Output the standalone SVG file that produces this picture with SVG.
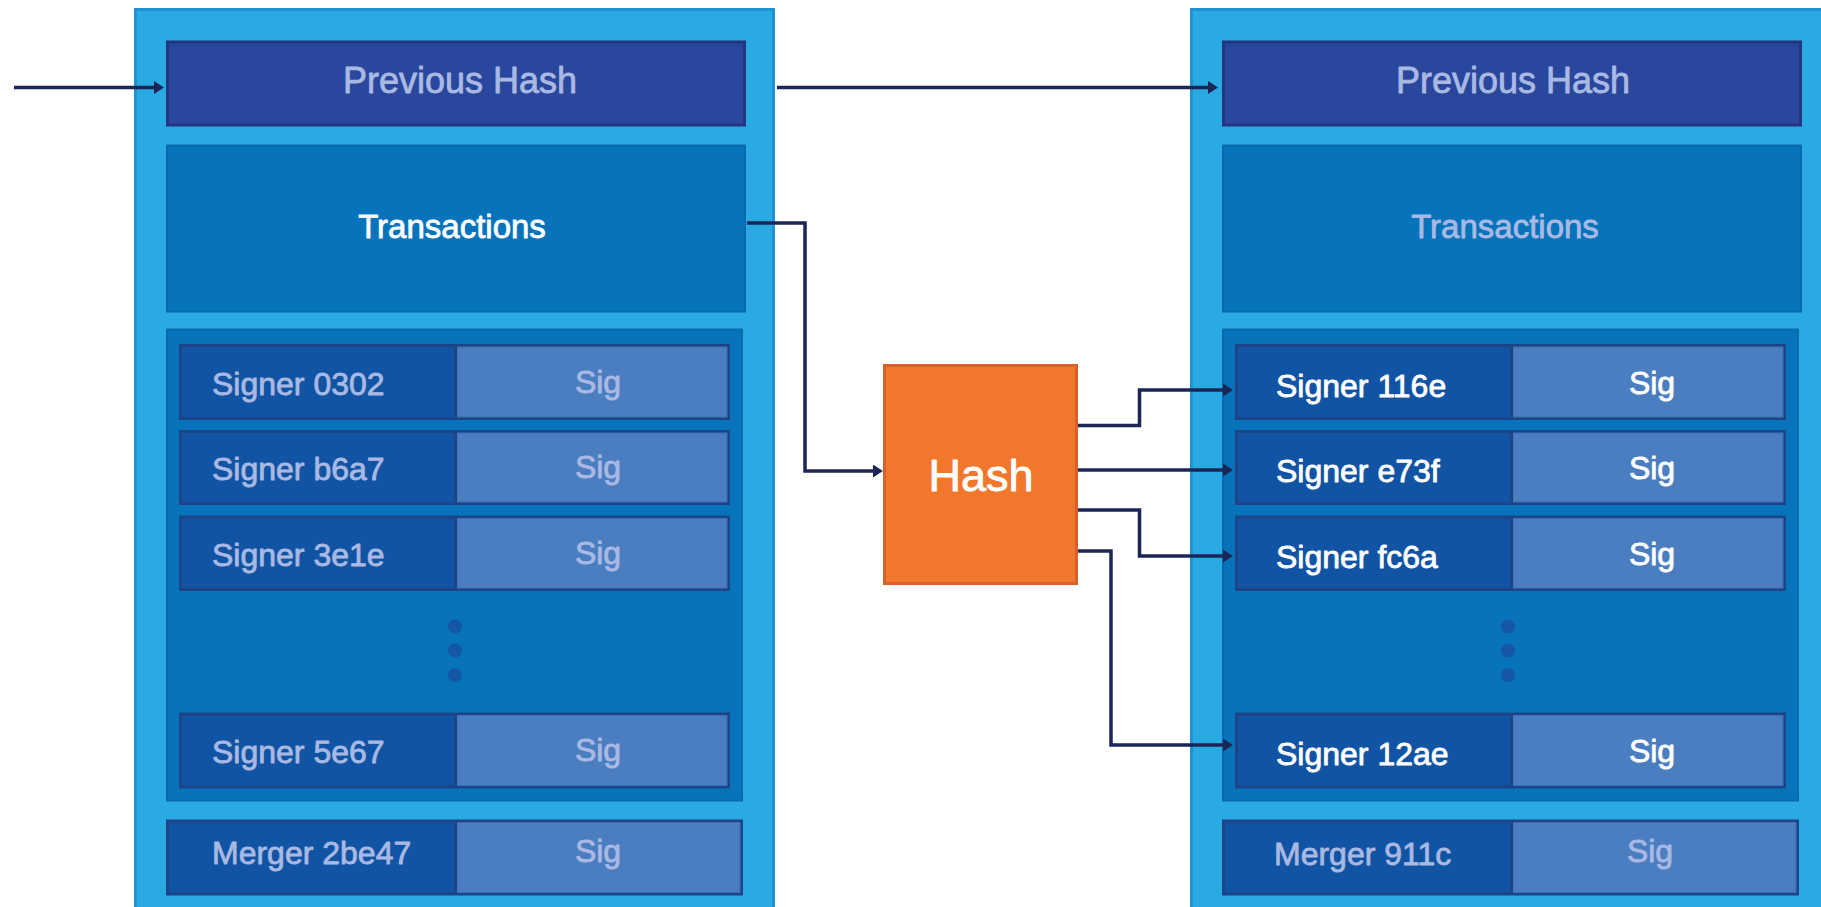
<svg xmlns="http://www.w3.org/2000/svg" width="1821" height="907" viewBox="0 0 1821 907">
  <defs>
    <style>
      .outer { fill: #29aae2; stroke: #1f93d2; stroke-width: 3; }
      .prev { fill: #29479d; stroke: #22357e; stroke-width: 3; }
      .mid { fill: #0673bb; stroke: #0b68ad; stroke-width: 2; }
      .cell { fill: #1254a4; stroke: #1c4486; stroke-width: 3; }
      .sig { fill: #4b7ec1; stroke: #3f70b3; stroke-width: 1; }
      .div { stroke: #1c4486; stroke-width: 3; }
      .dot { fill: #1656a6; }
      .hash { fill: #f1772c; stroke: #d8602a; stroke-width: 3; }
      .t { font-family: "Liberation Sans", Arial, sans-serif; stroke-width: 0.8; stroke-linejoin: round; }
      .faded { fill: #a9b9e3; stroke: #a9b9e3; }
      .white { fill: #ffffff; stroke: #ffffff; }
      .big { font-size: 36px; }
      .tx { font-size: 33px; }
      .row { font-size: 32px; }
      .c { text-anchor: middle; }
      .conn { fill: none; stroke: #1b2656; stroke-width: 3.5; }
    </style>
    <marker id="arrow" viewBox="0 0 10 13" refX="0" refY="6.5" markerWidth="10" markerHeight="13" markerUnits="userSpaceOnUse" orient="auto">
      <path d="M0,0 L10,6.5 L0,13 z" fill="#1b2656"/>
    </marker>
  </defs>

  <rect x="0" y="0" width="1821" height="907" fill="#ffffff"/>

  <!-- Left block -->
  <g id="block-left">
    <rect class="outer" x="135.5" y="9.5" width="638" height="920"/>
    <g id="left-prev-hash">
      <rect class="prev" x="167.5" y="42" width="577" height="83"/>
      <text class="t big faded c" x="460" y="93">Previous Hash</text>
    </g>
    <g id="left-transactions">
      <rect class="mid" x="167" y="145.5" width="578" height="166"/>
      <text class="t tx white c" x="452" y="238">Transactions</text>
    </g>
    <g id="left-signers">
      <rect class="mid" x="167" y="329.5" width="575" height="471"/>
      <g id="left-signer-0302">
        <rect class="cell" x="180.5" y="345.5" width="548" height="73"/>
        <rect class="sig" x="457" y="347" width="270" height="70"/>
        <line class="div" x1="455.5" y1="345.5" x2="455.5" y2="418.5"/>
        <text class="t row faded" x="212" y="395">Signer 0302</text>
        <text class="t row faded c" x="598" y="393">Sig</text>
      </g>
      <g id="left-signer-b6a7">
        <rect class="cell" x="180.5" y="431.5" width="548" height="72"/>
        <rect class="sig" x="457" y="433" width="270" height="69"/>
        <line class="div" x1="455.5" y1="431.5" x2="455.5" y2="503.5"/>
        <text class="t row faded" x="212" y="480">Signer b6a7</text>
        <text class="t row faded c" x="598" y="478">Sig</text>
      </g>
      <g id="left-signer-3e1e">
        <rect class="cell" x="180.5" y="517" width="548" height="72.5"/>
        <rect class="sig" x="457" y="518.5" width="270" height="69.5"/>
        <line class="div" x1="455.5" y1="517" x2="455.5" y2="589.5"/>
        <text class="t row faded" x="212" y="566">Signer 3e1e</text>
        <text class="t row faded c" x="598" y="564">Sig</text>
      </g>
      <g id="left-ellipsis">
        <circle class="dot" cx="455" cy="626.5" r="7"/>
        <circle class="dot" cx="455" cy="650.5" r="7"/>
        <circle class="dot" cx="455" cy="675" r="7"/>
      </g>
      <g id="left-signer-5e67">
        <rect class="cell" x="180.5" y="714" width="548" height="73"/>
        <rect class="sig" x="457" y="715.5" width="270" height="70"/>
        <line class="div" x1="455.5" y1="714" x2="455.5" y2="787"/>
        <text class="t row faded" x="212" y="763">Signer 5e67</text>
        <text class="t row faded c" x="598" y="761">Sig</text>
      </g>
    </g>
    <g id="left-merger">
      <rect class="cell" x="167.5" y="821" width="574" height="73"/>
      <rect class="sig" x="457" y="822.5" width="283" height="70"/>
      <line class="div" x1="455.5" y1="821" x2="455.5" y2="894"/>
      <text class="t row faded" x="212" y="864">Merger 2be47</text>
      <text class="t row faded c" x="598" y="862">Sig</text>
    </g>
  </g>

  <!-- Hash node -->
  <g id="hash">
    <rect class="hash" x="884.5" y="365.5" width="192" height="218"/>
    <text class="t white c" x="981" y="491" font-size="45">Hash</text>
  </g>

  <!-- Right block -->
  <g id="block-right" transform="translate(1056 0)">
    <rect class="outer" x="135.5" y="9.5" width="700" height="920"/>
    <g id="right-prev-hash">
      <rect class="prev" x="167.5" y="42" width="577" height="83"/>
      <text class="t big faded c" x="457" y="93">Previous Hash</text>
    </g>
    <g id="right-transactions">
      <rect class="mid" x="167" y="145.5" width="578" height="166"/>
      <text class="t tx faded c" x="449" y="238">Transactions</text>
    </g>
    <g id="right-signers">
      <rect class="mid" x="167" y="329.5" width="575" height="471"/>
      <g id="right-signer-116e">
        <rect class="cell" x="180.5" y="345.5" width="548" height="73"/>
        <rect class="sig" x="457" y="347" width="270" height="70"/>
        <line class="div" x1="455.5" y1="345.5" x2="455.5" y2="418.5"/>
        <text class="t row white" x="220" y="397">Signer 116e</text>
        <text class="t row white c" x="596" y="394">Sig</text>
      </g>
      <g id="right-signer-e73f">
        <rect class="cell" x="180.5" y="431.5" width="548" height="72"/>
        <rect class="sig" x="457" y="433" width="270" height="69"/>
        <line class="div" x1="455.5" y1="431.5" x2="455.5" y2="503.5"/>
        <text class="t row white" x="220" y="482">Signer e73f</text>
        <text class="t row white c" x="596" y="479">Sig</text>
      </g>
      <g id="right-signer-fc6a">
        <rect class="cell" x="180.5" y="517" width="548" height="72.5"/>
        <rect class="sig" x="457" y="518.5" width="270" height="69.5"/>
        <line class="div" x1="455.5" y1="517" x2="455.5" y2="589.5"/>
        <text class="t row white" x="220" y="568">Signer fc6a</text>
        <text class="t row white c" x="596" y="565">Sig</text>
      </g>
      <g id="right-ellipsis">
        <circle class="dot" cx="452" cy="626.5" r="7"/>
        <circle class="dot" cx="452" cy="650.5" r="7"/>
        <circle class="dot" cx="452" cy="675" r="7"/>
      </g>
      <g id="right-signer-12ae">
        <rect class="cell" x="180.5" y="714" width="548" height="73"/>
        <rect class="sig" x="457" y="715.5" width="270" height="70"/>
        <line class="div" x1="455.5" y1="714" x2="455.5" y2="787"/>
        <text class="t row white" x="220" y="765">Signer 12ae</text>
        <text class="t row white c" x="596" y="762">Sig</text>
      </g>
    </g>
    <g id="right-merger">
      <rect class="cell" x="167.5" y="821" width="574" height="73"/>
      <rect class="sig" x="457" y="822.5" width="283" height="70"/>
      <line class="div" x1="455.5" y1="821" x2="455.5" y2="894"/>
      <text class="t row faded" x="218" y="865">Merger 911c</text>
      <text class="t row faded c" x="594" y="862">Sig</text>
    </g>
  </g>

  <!-- Connectors -->
  <g id="connectors">
    <path class="conn" d="M14 87.5 H154" marker-end="url(#arrow)"/>
    <path class="conn" d="M777 87.5 H1208" marker-end="url(#arrow)"/>
    <path class="conn" d="M747 223 H805 V471 H873" marker-end="url(#arrow)"/>
    <path class="conn" d="M1078 425.5 H1139.5 V390 H1223" marker-end="url(#arrow)"/>
    <path class="conn" d="M1078 470 H1223" marker-end="url(#arrow)"/>
    <path class="conn" d="M1078 510 H1139.5 V556 H1223" marker-end="url(#arrow)"/>
    <path class="conn" d="M1078 551 H1111 V745 H1223" marker-end="url(#arrow)"/>
  </g>
</svg>
